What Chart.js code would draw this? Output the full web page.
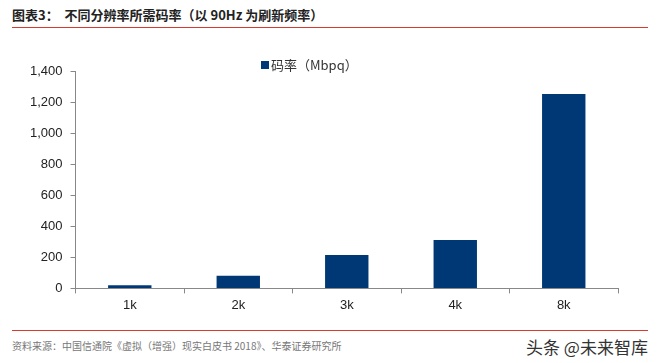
<!DOCTYPE html>
<html>
<head>
<meta charset="utf-8">
<script src="https://cdn.jsdelivr.net/npm/chart.js@4"></script>
<style>
  body { margin: 0; width: 659px; height: 363px; background: #fff; position: relative; overflow: hidden; font-family: "Noto Sans CJK SC", sans-serif; }
  #title { position: absolute; left: 12px; top: 5px; font-size: 13px; font-weight: bold; color: #222; white-space: pre; }
  .rule { position: absolute; left: 12px; width: 636px; height: 1px; background: #d83a2e; }
  #source { position: absolute; left: 12px; top: 338px; font-size: 10px; color: #777; }
  #mark { position: absolute; left: 526px; top: 334px; font-size: 17px; color: #333; }
  #wrap { position: absolute; left: 0; top: 0; width: 620px; height: 317px; }
  #legend { position: absolute; left: 261px; top: 55px; font-size: 13px; color: #333; }
  #legend i { display: inline-block; width: 8px; height: 8px; background: #003876; margin-right: 2px; vertical-align: 1px; }
</style>
</head>
<body>
<div id="title">图表3：  不同分辨率所需码率（以 90Hz 为刷新频率）</div>
<div class="rule" style="top:27px"></div>
<div id="wrap"><canvas id="myChart"></canvas></div>
<div id="legend"></div>
<div class="rule" style="top:330px"></div>
<div id="source">资料来源：中国信通院《虚拟（增强）现实白皮书 2018》、华泰证券研究所</div>
<div id="mark">头条 @未来智库</div>
<script>
const categories = ['1k', '2k', '3k', '4k', '8k'];
const bitrate = [20, 81, 215, 311, 1252];
const seriesName = '码率（Mbpq）';
const yTicks = [0, 200, 400, 600, 800, 1000, 1200, 1400];

const data = {
  labels: categories,
  datasets: [
    {
      label: seriesName,
      backgroundColor: '#003876',
      data: bitrate,
      categoryPercentage: 1,
      barPercentage: 0.4,
    }
  ]
};

const config = {
  type: 'bar',
  data: data,
  options: {
    responsive: true,
    maintainAspectRatio: false,
    animation: false,
    layout: { padding: { left: 22, top: 71, right: 2, bottom: 0 } },
    plugins: {
      tooltip: { enabled: false },
      legend: { display: false }
    },
    scales: {
      x: {
        offset: true,
        grid: { offset: true, drawOnChartArea: false, drawTicks: true, tickLength: 5, color: '#888' },
        border: { display: true, color: '#888' },
        ticks: { color: '#222', padding: 4, font: { family: "'Liberation Sans'", size: 13 } }
      },
      y: {
        min: yTicks[0],
        max: yTicks[yTicks.length - 1],
        afterBuildTicks: axis => { axis.ticks = yTicks.map(v => ({ value: v })); },
        grid: { drawOnChartArea: false, drawTicks: true, tickLength: 5, color: '#888' },
        border: { display: true, color: '#888' },
        ticks: {
          color: '#222',
          padding: 8,
          font: { family: "'Liberation Sans'", size: 13 },
          callback: v => v.toLocaleString('en-US')
        }
      }
    }
  }
};

const myChart = new Chart(document.getElementById('myChart'), config);

// legend built from the dataset itself
const ds = myChart.data.datasets[0];
const legend = document.getElementById('legend');
legend.innerHTML = '<i style="background:' + ds.backgroundColor + '"></i>' + ds.label;
</script>
</body>
</html>
